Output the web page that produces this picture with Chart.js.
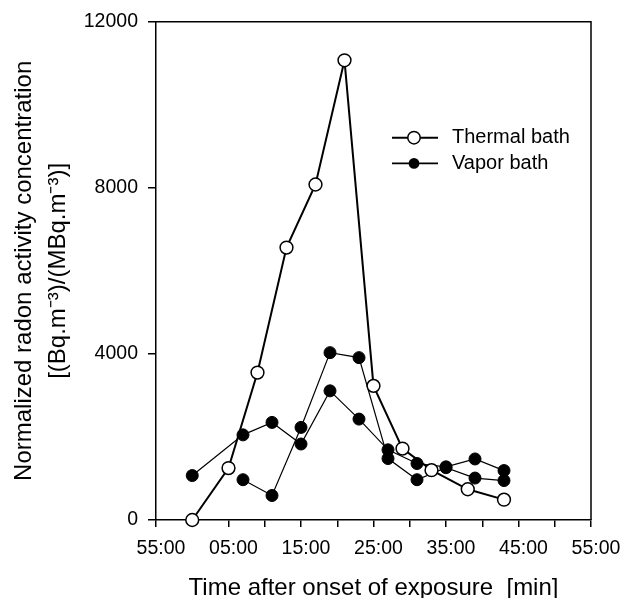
<!DOCTYPE html>
<html>
<head>
<meta charset="utf-8">
<script src="https://cdn.jsdelivr.net/npm/chart.js@4"></script>
<style>
html,body{margin:0;padding:0;background:#fff;}
canvas{display:block;}
</style>
</head>
<body>
<canvas id="c" width="621" height="598"></canvas>
<script>
// ---- data (x = minutes after the "55:00" tick) ----
const thermalTimes  = [5, 10, 14, 18, 22, 26, 30, 34, 38, 43, 48];
const thermalValues = [0, 1250, 3550, 6560, 8080, 11070, 3230, 1720, 1200, 740, 490];

const vaporTimesA  = [5, 12, 16, 20, 24, 28, 32, 36, 40, 44, 48];
const vaporValuesA = [1070, 2050, 2350, 1830, 3110, 2430, 1690, 1360, 1280, 1470, 1190];

const vaporTimesB  = [12, 16, 20, 24, 28, 32, 36, 40, 44, 48];
const vaporValuesB = [970, 590, 2230, 4030, 3910, 1480, 970, 1260, 1010, 950];

const xTickLabels = ['55:00','','05:00','','15:00','','25:00','','35:00','','45:00','','55:00'];
const yTickValues = [0, 4000, 8000, 12000];

const seriesNames = ['Thermal bath', 'Vapor bath'];
const xTitle = 'Time after onset of exposure  [min]';
const yTitle = ['Normalized radon activity concentration', '[(Bq.m\u207B\u00B3)/(MBq.m\u207B\u00B3)]'];

const pts = (xs, ys) => xs.map((x, i) => ({x: x, y: ys[i]}));

const FONT = "'Liberation Sans', Arial, sans-serif";

// frame (top + right) plugin
const framePlugin = {
  id: 'frame',
  beforeDatasetsDraw(chart) {
    const {ctx, chartArea: a} = chart;
    ctx.save();
    ctx.strokeStyle = '#000';
    ctx.lineWidth = 1.5;
    ctx.beginPath();
    ctx.moveTo(a.left, a.top);
    ctx.lineTo(a.right, a.top);
    ctx.lineTo(a.right, a.bottom);
    ctx.stroke();
    ctx.restore();
  }
};

// in-plot legend plugin
const legendPlugin = {
  id: 'inLegend',
  afterDatasetsDraw(chart) {
    const {ctx, chartArea: a} = chart;
    const ds = chart.data.datasets;
    const rows = [
      {label: seriesNames[0], d: ds[0], r: 6.2, lw: 2},
      {label: seriesNames[1], d: ds[1], r: 4.6, lw: 1.6}
    ];
    const x0 = a.left + 236, x1 = a.left + 282, xm = a.left + 258, xt = a.left + 296;
    let y = a.top + 116;
    ctx.save();
    rows.forEach(row => {
      ctx.strokeStyle = '#000';
      ctx.lineWidth = row.lw;
      ctx.beginPath();
      ctx.moveTo(x0, y); ctx.lineTo(x1, y);
      ctx.stroke();
      ctx.beginPath();
      ctx.arc(xm, y, row.r, 0, Math.PI * 2);
      ctx.fillStyle = row.d.pointBackgroundColor;
      ctx.fill();
      ctx.lineWidth = 1.5;
      ctx.stroke();
      ctx.fillStyle = '#000';
      ctx.font = '20px ' + FONT;
      ctx.textBaseline = 'middle';
      ctx.textAlign = 'left';
      ctx.fillText(row.label, xt, y);
      y += 25.7;
    });
    ctx.restore();
  }
};

new Chart(document.getElementById('c'), {
  type: 'line',
  data: {
    datasets: [
      {
        label: seriesNames[0],
        data: pts(thermalTimes, thermalValues),
        borderColor: '#000', borderWidth: 2,
        pointRadius: 6.4, pointBorderWidth: 1.5,
        pointBackgroundColor: '#fff', pointBorderColor: '#000',
        tension: 0, clip: false
      },
      {
        label: seriesNames[1],
        data: pts(vaporTimesA, vaporValuesA),
        borderColor: '#000', borderWidth: 1.2,
        pointRadius: 6, pointBorderWidth: 1,
        pointBackgroundColor: '#000', pointBorderColor: '#000',
        tension: 0, clip: false
      },
      {
        label: seriesNames[1],
        data: pts(vaporTimesB, vaporValuesB),
        borderColor: '#000', borderWidth: 1.2,
        pointRadius: 6, pointBorderWidth: 1,
        pointBackgroundColor: '#000', pointBorderColor: '#000',
        tension: 0, clip: false
      }
    ]
  },
  options: {
    responsive: false,
    animation: false,
    devicePixelRatio: 1,
    layout: {padding: {top: 19, right: 30, bottom: 0, left: 0}},
    plugins: {legend: {display: false}, tooltip: {enabled: false}},
    events: [],
    scales: {
      x: {
        type: 'linear',
        min: 0, max: 60,
        afterFit(s) { s.height = 78; s.paddingRight = 0; },
        afterBuildTicks(s) { s.ticks = xTickLabels.map((_, i) => ({value: i * 5})); },
        ticks: {
          autoSkip: false, maxRotation: 0, minRotation: 0,
          color: '#000', font: {family: FONT, size: 19.5},
          padding: 10, labelOffset: 5,
          callback: (v, i) => xTickLabels[i]
        },
        grid: {display: true, drawOnChartArea: false, drawTicks: true, tickLength: 7, color: '#000', lineWidth: 1.5},
        border: {display: true, color: '#000', width: 1.5},
        title: {display: true, text: xTitle, color: '#000',
                font: {family: FONT, size: 24, lineHeight: 1.0}, padding: {top: 0, bottom: -2}}
      },
      y: {
        type: 'linear',
        min: 0, max: 12000,
        afterFit(s) { s.width = 156; },
        afterBuildTicks(s) { s.ticks = yTickValues.map(v => ({value: v})); },
        ticks: {
          color: '#000', font: {family: FONT, size: 19.5}, padding: 10,
          callback: v => String(v)
        },
        grid: {display: true, drawOnChartArea: false, drawTicks: true, tickLength: 8, color: '#000', lineWidth: 1.5},
        border: {display: true, color: '#000', width: 1.5},
        title: {display: true, text: yTitle, color: '#000',
                font: {family: FONT, size: 24, lineHeight: 1.4}, padding: {top: 8, bottom: 0}}
      }
    }
  },
  plugins: [framePlugin, legendPlugin]
});
</script>
</body>
</html>
